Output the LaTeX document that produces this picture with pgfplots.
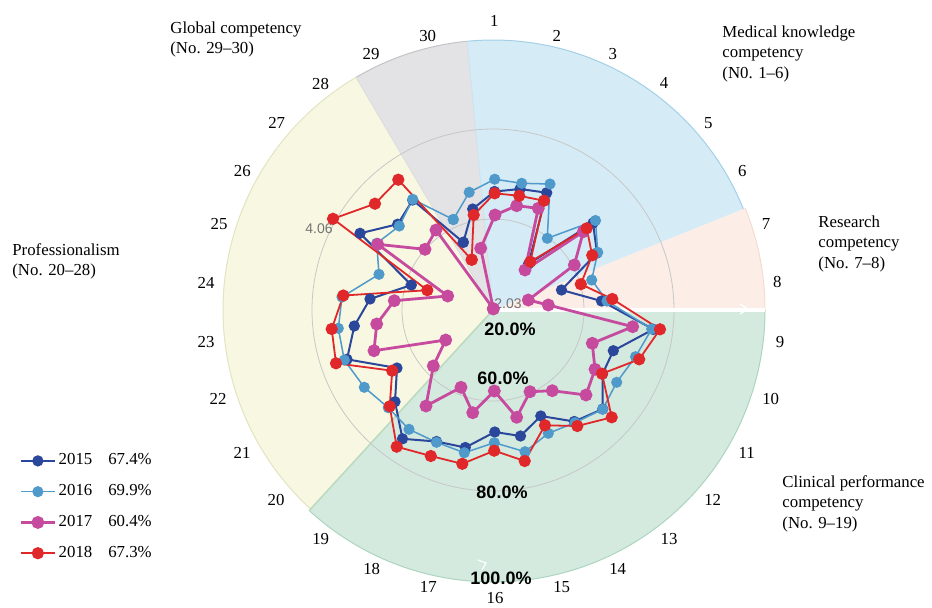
\documentclass[border=0pt]{standalone}
\usepackage{pgfplots}
\pgfplotsset{compat=1.18}
\usepackage{fontspec}
\setmainfont{Liberation Serif}
\newfontfamily\arial{Liberation Sans}
\definecolor{c15}{HTML}{2B479B}
\definecolor{c16}{HTML}{4F9ACB}
\definecolor{c17}{HTML}{C64A9E}
\definecolor{c18}{HTML}{E0282A}
\definecolor{sBlue}{HTML}{D5ECF6}
\definecolor{sPeach}{HTML}{FCEEE7}
\definecolor{sGreen}{HTML}{D4EADF}
\definecolor{sYellow}{HTML}{F8F8E2}
\definecolor{sGray}{HTML}{E3E2E4}
\definecolor{eBlue}{HTML}{A3D0E7}
\definecolor{ePeach}{HTML}{F3DCD0}
\definecolor{eGreen}{HTML}{ACD5BF}
\definecolor{eYellow}{HTML}{E2E4C2}
\definecolor{eGray}{HTML}{C4C3C6}
\tikzset{spoke/.style={font=\fontsize{8.4}{10}\selectfont, inner sep=0pt}}

\pgfplotstableread{
x y
463.3 242.3
472.7 209
494.5 191.5
520 189
546.7 192.7
528.5 264
593 223
597 253
561.5 290
601.5 301
653.3 329.3
613.3 350.7
602.5 374
602.7 409
574.3 421.5
540.8 416
520.5 436
494.8 432
465.3 447.5
436.5 441.5
402.5 438.8
395 401.7
397 368
347 359.3
354.3 326
370 299
411.3 285
360 233.3
397.7 224.2
412.7 200
463.3 242.3
}\tA

\pgfplotstableread{
x y
453.3 219.5
469.2 192.3
494.7 179.2
521.7 183.3
550 184
547.3 238.3
595.5 220.5
597.7 252.3
591.7 280
607 301
651.7 329
635.5 356.7
616.7 382.3
602.7 409.2
575 422.7
548.3 433.3
525 451.7
494.3 442.7
464.3 452.7
436.5 442.3
409 429.3
388.3 407.7
364.3 387.3
344.3 360
338.3 328.3
342 297
379 274.3
376.7 243.3
399.3 226
412.7 199.3
453.3 219.5
}\tB

\pgfplotstableread{
x y
493.3 308.8
480.7 248.3
495 215
516.7 205.7
538.3 208.3
525 270
583.3 231.7
574.3 265
528.3 300
548.3 305
632.7 326.7
592.3 343.3
595 369.3
586 395
552.3 390.7
530 391.7
516.7 417.3
494.3 391
472.7 412.7
461 387.3
426 406
433.3 366
445.7 340
374 350.7
376.7 324
394.3 300.7
447.7 296
377.7 244.3
425 249.3
436 230
493.3 308.8
}\tC

\pgfplotstableread{
x y
471.7 259.7
473.7 215
494.7 193.3
519.2 195.8
544 200.7
530.3 261.7
586.7 228.3
592.2 255.3
580.8 284.2
612.3 299
660 329.3
639.2 359.3
602 373.7
611.7 417.3
577.3 426
545 425.3
524.7 461
494.2 450.7
462.3 463.8
430.8 456
396.7 446.7
389.7 406.3
392.2 370.7
336 363.3
331.7 329
343.3 295.5
427.3 290.2
333 218.8
375 203.7
398.3 179.7
471.7 259.7
}\tD

\begin{document}
\begin{tikzpicture}
\begin{axis}[
  x=0.5pt, y=0.5pt, y dir=reverse,
  xmin=0, xmax=932, ymin=0, ymax=607,
  hide axis, clip=false,
  legend cell align=left,
  legend style={at={(axis cs:19,451)}, anchor=north west, draw=none, fill=none,
    font=\fontsize{8.4}{10}\selectfont, row sep=5.9pt, inner sep=0pt,
    nodes={inner sep=1.2pt}},
]
% sectors
\fill[sPeach] (axis cs:493,310) -- ++(0:136pt) arc[start angle=0, end angle=22, radius=136pt] -- cycle;
\fill[sBlue] (axis cs:493,310) -- ++(22:135pt) arc[start angle=22, end angle=95.5, radius=135pt] -- cycle;
\fill[sGray] (axis cs:493,310) -- ++(95.5:135pt) arc[start angle=95.5, end angle=120.5, radius=135pt] -- cycle;
\fill[sYellow] (axis cs:493,310) -- ++(120.5:135pt) arc[start angle=120.5, end angle=227.5, radius=135pt] -- cycle;
\fill[sGreen] (axis cs:493,310) -- ++(227.5:136pt) arc[start angle=227.5, end angle=360, radius=136pt] -- cycle;
\draw[ePeach, line width=0.5pt] (axis cs:493,310) ++(0:136pt) arc[start angle=0, end angle=22, radius=136pt];
\draw[eBlue, line width=0.5pt] (axis cs:493,310) ++(22:135pt) arc[start angle=22, end angle=95.5, radius=135pt];
\draw[eGray, line width=0.5pt] (axis cs:493,310) ++(95.5:135pt) arc[start angle=95.5, end angle=120.5, radius=135pt];
\draw[eYellow, line width=0.5pt] (axis cs:493,310) ++(120.5:135pt) arc[start angle=120.5, end angle=227.5, radius=135pt];
\draw[eGreen, line width=0.5pt] (axis cs:493,310) ++(227.5:136pt) arc[start angle=227.5, end angle=360, radius=136pt];
\draw[eGreen!70!eYellow, line width=0.8pt] (axis cs:493,310) -- ++(227.5:136pt);
\draw[eGray!60!white, line width=0.4pt] (axis cs:493,310) -- ++(120.5:135pt);
\draw[eBlue!60!white, line width=0.4pt] (axis cs:493,310) -- ++(95.5:135pt);
% rings
\draw[black!22, line width=0.4pt] (axis cs:493,310) circle[radius=45.5pt];
\draw[black!22, line width=0.4pt] (axis cs:493,310) circle[radius=90.5pt];
\draw[white, line width=1.6pt] (axis cs:493,310) -- ++(0:136pt);
\draw[white, line width=0.6pt] (axis cs:740,304) -- (axis cs:748,309) -- (axis cs:740,314);
\draw[white, line width=0.6pt] (axis cs:478,560) -- (axis cs:486,563) -- (axis cs:482,570);
% spoke labels
\node[spoke] at (axis cs:494.3,20.7) {1};
\node[spoke] at (axis cs:556.7,35.7) {2};
\node[spoke] at (axis cs:612.7,54) {3};
\node[spoke] at (axis cs:664,83.3) {4};
\node[spoke] at (axis cs:708.3,123.3) {5};
\node[spoke] at (axis cs:742.3,171) {6};
\node[spoke] at (axis cs:766,224) {7};
\node[spoke] at (axis cs:777.3,281.7) {8};
\node[spoke] at (axis cs:780,341.7) {9};
\node[spoke] at (axis cs:770.7,399) {10};
\node[spoke] at (axis cs:746.7,452.7) {11};
\node[spoke] at (axis cs:712.7,500) {12};
\node[spoke] at (axis cs:669,539.3) {13};
\node[spoke] at (axis cs:617.7,569) {14};
\node[spoke] at (axis cs:561.7,587.3) {15};
\node[spoke] at (axis cs:495,598) {16};
\node[spoke] at (axis cs:428.3,587.3) {17};
\node[spoke] at (axis cs:371.7,569) {18};
\node[spoke] at (axis cs:320.7,539) {19};
\node[spoke] at (axis cs:276,500) {20};
\node[spoke] at (axis cs:242,452.7) {21};
\node[spoke] at (axis cs:218,399) {22};
\node[spoke] at (axis cs:206,341.7) {23};
\node[spoke] at (axis cs:206,282.7) {24};
\node[spoke] at (axis cs:219,224.3) {25};
\node[spoke] at (axis cs:242.3,170.7) {26};
\node[spoke] at (axis cs:276.7,123.3) {27};
\node[spoke] at (axis cs:320.5,83.5) {28};
\node[spoke] at (axis cs:371,54) {29};
\node[spoke] at (axis cs:427.7,35.7) {30};
% data
\addplot[c15, line width=1pt, mark=*, mark size=2.3pt, mark options={fill=c15, draw=c15}] table[x=x,y=y] {\tA};
\addlegendentry{2015\hspace{8pt}67.4\%}
\addplot[c16, line width=0.75pt, mark=*, mark size=2.4pt, mark options={fill=c16, draw=c16}] table[x=x,y=y] {\tB};
\addlegendentry{2016\hspace{8pt}69.9\%}
\addplot[c17, line width=1.4pt, mark=*, mark size=2.5pt, mark options={fill=c17, draw=c17}] table[x=x,y=y] {\tC};
\addlegendentry{2017\hspace{8pt}60.4\%}
\addplot[c18, line width=0.9pt, mark=*, mark size=2.6pt, mark options={fill=c18, draw=c18}] table[x=x,y=y] {\tD};
\addlegendentry{2018\hspace{8pt}67.3\%}
% value labels
\node[font=\arial\fontsize{7}{8}\selectfont, text=black!55, inner sep=0pt] at (axis cs:508,304) {2.03};
\node[font=\arial\fontsize{7}{8}\selectfont, text=black!55, inner sep=0pt] at (axis cs:319,229) {4.06};
\node[font=\arial\bfseries\fontsize{9}{10}\selectfont, inner sep=0pt] at (axis cs:510,329) {20.0\%};
\node[font=\arial\bfseries\fontsize{9}{10}\selectfont, inner sep=0pt] at (axis cs:503,378) {60.0\%};
\node[font=\arial\bfseries\fontsize{9}{10}\selectfont, inner sep=0pt] at (axis cs:502,492) {80.0\%};
\node[font=\arial\bfseries\fontsize{9}{10}\selectfont, inner sep=0pt] at (axis cs:501,578) {100.0\%};
% sector titles
\node[anchor=north west, align=left, inner sep=0pt, font=\fontsize{8.4}{10.3}\selectfont] at (axis cs:170,21) {Global competency\\(No. 29--30)};
\node[anchor=north west, align=left, inner sep=0pt, font=\fontsize{8.4}{10.3}\selectfont] at (axis cs:722,25) {Medical knowledge\\competency\\(N0. 1--6)};
\node[anchor=north west, align=left, inner sep=0pt, font=\fontsize{8.4}{10.3}\selectfont] at (axis cs:818,215) {Research\\competency\\(No. 7--8)};
\node[anchor=north west, align=left, inner sep=0pt, font=\fontsize{8.4}{10.3}\selectfont] at (axis cs:12,243) {Professionalism\\(No. 20--28)};
\node[anchor=north west, align=left, inner sep=0pt, font=\fontsize{8.4}{10.3}\selectfont] at (axis cs:782,475) {Clinical performance\\competency\\(No. 9--19)};
\end{axis}
\pgfresetboundingbox
\path[use as bounding box] (current axis.south west) rectangle (current axis.north east);
\end{tikzpicture}
\end{document}
